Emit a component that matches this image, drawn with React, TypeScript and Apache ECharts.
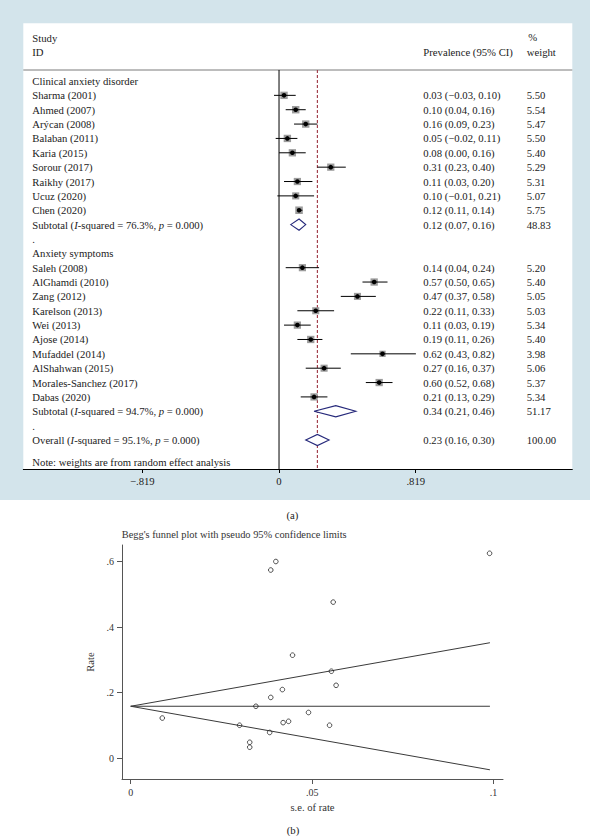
import React, { useEffect, useRef } from "react";
import * as echarts from "echarts";

// ---------- Forest plot data ----------
const subgroupNames = ["Clinical anxiety disorder", "Anxiety symptoms"];

const clinicalStudies = ["Sharma (2001)", "Ahmed (2007)", "Arýcan (2008)", "Balaban (2011)", "Karia (2015)", "Sorour (2017)", "Raikhy (2017)", "Ucuz (2020)", "Chen (2020)"];
const clinicalEst = [0.03, 0.10, 0.16, 0.05, 0.08, 0.31, 0.11, 0.10, 0.12];
const clinicalLow = [-0.03, 0.04, 0.09, -0.02, 0.00, 0.23, 0.03, -0.01, 0.11];
const clinicalHigh = [0.10, 0.16, 0.23, 0.11, 0.16, 0.40, 0.20, 0.21, 0.14];
const clinicalWeight = [5.50, 5.54, 5.47, 5.50, 5.40, 5.29, 5.31, 5.07, 5.75];

const symptomStudies = ["Saleh (2008)", "AlGhamdi (2010)", "Zang (2012)", "Karelson (2013)", "Wei (2013)", "Ajose (2014)", "Mufaddel (2014)", "AlShahwan (2015)", "Morales-Sanchez (2017)", "Dabas (2020)"];
const symptomEst = [0.14, 0.57, 0.47, 0.22, 0.11, 0.19, 0.62, 0.27, 0.60, 0.21];
const symptomLow = [0.04, 0.50, 0.37, 0.11, 0.03, 0.11, 0.43, 0.16, 0.52, 0.13];
const symptomHigh = [0.24, 0.65, 0.58, 0.33, 0.19, 0.26, 0.82, 0.37, 0.68, 0.29];
const symptomWeight = [5.20, 5.40, 5.05, 5.03, 5.34, 5.40, 3.98, 5.06, 5.37, 5.34];

const subtotalEst = [0.12, 0.34];
const subtotalLow = [0.07, 0.21];
const subtotalHigh = [0.16, 0.46];
const subtotalWeight = [48.83, 51.17];
const subtotalI2 = ["76.3", "94.7"];

const overallEst = 0.23;
const overallLow = 0.16;
const overallHigh = 0.30;
const overallWeight = 100.0;
const overallI2 = "95.1";

const forestTicks = [-0.819, 0, 0.819];
const noteText = "Note: weights are from random effect analysis";

// ---------- Funnel plot data ----------
const funnelSe = [0.040, 0.0386, 0.0446, 0.0418, 0.0386, 0.0345, 0.049, 0.0087, 0.0989, 0.0558, 0.0553, 0.0566, 0.030, 0.042, 0.0435, 0.0548, 0.0383, 0.0328, 0.0328];
const funnelRate = [0.600, 0.574, 0.314, 0.209, 0.185, 0.158, 0.139, 0.122, 0.625, 0.476, 0.265, 0.222, 0.100, 0.108, 0.112, 0.100, 0.078, 0.048, 0.033];
const limitSe = [0, 0.099];
const pooledLine = [0.158, 0.158];
const upperLimit = [0.158, 0.352];
const lowerLimit = [0.158, -0.036];
const funnelXTicks = [0, 0.05, 0.1];
const funnelYTicks = [0, 0.2, 0.4, 0.6];

// ---------- layout constants ----------
const SERIF = "'Liberation Serif', 'Times New Roman', serif";
const TXT = "#222";
const FS = 10.7;
const ROW_MIN = -4.018;
const ROW_MAX = 27.02;
const HEADER_ROW = -0.766;
const NOTE_ROW = 26.51;
const COL_LABEL = -1.478;
const COL_CI = 0.8646;
const COL_WEIGHT = 1.484;

const fmt = (v: number) => (v < 0 ? "\u2212" : "") + Math.abs(v).toFixed(2);
const ciText = (e: number, l: number, h: number) => `${fmt(e)} (${fmt(l)}, ${fmt(h)})`;
const hetText = (lead: string, i2: string) => `{n|${lead} (}{i|I}{n|-squared = ${i2}%, }{i|p}{n| = 0.000)}`;

type TextItem = { x: number; y: number; text: string; rich?: boolean };
type Mark = { y: number; est: number; low: number; high: number; weight: number };

function buildForest() {
  const texts: TextItem[] = [];
  const studies: Mark[] = [];
  const diamonds: Mark[] = [];
  const groups = [
    { names: clinicalStudies, est: clinicalEst, low: clinicalLow, high: clinicalHigh, w: clinicalWeight },
    { names: symptomStudies, est: symptomEst, low: symptomLow, high: symptomHigh, w: symptomWeight },
  ];
  let row = 0;
  groups.forEach((g, gi) => {
    texts.push({ x: COL_LABEL, y: row, text: subgroupNames[gi] });
    row += 1;
    g.names.forEach((name, i) => {
      texts.push({ x: COL_LABEL, y: row, text: name });
      texts.push({ x: COL_CI, y: row, text: ciText(g.est[i], g.low[i], g.high[i]) });
      texts.push({ x: COL_WEIGHT, y: row, text: g.w[i].toFixed(2) });
      studies.push({ y: row, est: g.est[i], low: g.low[i], high: g.high[i], weight: g.w[i] });
      row += 1;
    });
    texts.push({ x: COL_LABEL, y: row, text: hetText("Subtotal", subtotalI2[gi]), rich: true });
    texts.push({ x: COL_CI, y: row, text: ciText(subtotalEst[gi], subtotalLow[gi], subtotalHigh[gi]) });
    texts.push({ x: COL_WEIGHT, y: row, text: subtotalWeight[gi].toFixed(2) });
    diamonds.push({ y: row, est: subtotalEst[gi], low: subtotalLow[gi], high: subtotalHigh[gi], weight: subtotalWeight[gi] });
    row += 1;
    texts.push({ x: COL_LABEL, y: row, text: "." });
    row += 1;
  });
  texts.push({ x: COL_LABEL, y: row, text: hetText("Overall", overallI2), rich: true });
  texts.push({ x: COL_CI, y: row, text: ciText(overallEst, overallLow, overallHigh) });
  texts.push({ x: COL_WEIGHT, y: row, text: overallWeight.toFixed(2) });
  diamonds.push({ y: row, est: overallEst, low: overallLow, high: overallHigh, weight: overallWeight });
  texts.push({ x: COL_LABEL, y: NOTE_ROW, text: noteText });
  return { texts, studies, diamonds };
}

const tickFmtForest = (v: number) => (v === 0 ? "0" : (v < 0 ? "\u2212" : "") + Math.abs(v).toFixed(3).replace(/^0/, ""));
const tickFmtFunnel = (v: number) => (v === 0 ? "0" : String(v).replace(/^0/, ""));

export default function App() {
  const ref = useRef<HTMLDivElement>(null);

  useEffect(() => {
    if (!ref.current) return;
    const chart = echarts.init(ref.current, undefined, { renderer: "svg" });
    const { texts, studies, diamonds } = buildForest();

    const richStyle = {
      n: { fontFamily: SERIF, fontSize: FS, fill: TXT, fontStyle: "normal" },
      i: { fontFamily: SERIF, fontSize: FS, fill: TXT, fontStyle: "italic" },
    };

    const option: any = {
      animation: false,
      backgroundColor: "#ffffff",
      title: {
        text: "Begg's funnel plot with pseudo 95% confidence limits",
        left: 121.7,
        top: 529,
        padding: 0,
        textStyle: { fontFamily: SERIF, fontSize: 10.4, fontWeight: "normal", color: "#333" },
      },
      graphic: [
        { type: "rect", z: -20, silent: true, shape: { x: 0, y: 0, width: 590, height: 500 }, style: { fill: "#d3e4eb" } },
        { type: "rect", z: -19, silent: true, shape: { x: 23.3, y: 23.3, width: 549, height: 445.7 }, style: { fill: "#ffffff" } },
        { type: "line", z: -18, silent: true, shape: { x1: 23.3, y1: 70, x2: 572.3, y2: 70 }, style: { stroke: "#7a7a7a", lineWidth: 1 } },
        { type: "text", x: 32.3, y: 38.3, style: { text: "Study", fontFamily: SERIF, fontSize: FS, fill: TXT, verticalAlign: "middle" } },
        { type: "text", x: 32.3, y: 52.3, style: { text: "ID", fontFamily: SERIF, fontSize: FS, fill: TXT, verticalAlign: "middle" } },
        { type: "text", x: 423.3, y: 52.3, style: { text: "Prevalence (95% CI)", fontFamily: SERIF, fontSize: FS, fill: TXT, verticalAlign: "middle" } },
        { type: "text", x: 528.3, y: 36.7, style: { text: "%", fontFamily: SERIF, fontSize: FS, fill: TXT, verticalAlign: "middle" } },
        { type: "text", x: 526.7, y: 52.3, style: { text: "weight", fontFamily: SERIF, fontSize: FS, fill: TXT, verticalAlign: "middle" } },
        { type: "text", x: 292.5, y: 515, style: { text: "(a)", fontFamily: SERIF, fontSize: FS, fill: TXT, align: "center", verticalAlign: "middle" } },
        { type: "text", x: 293, y: 830, style: { text: "(b)", fontFamily: SERIF, fontSize: FS, fill: TXT, align: "center", verticalAlign: "middle" } },
      ],
      grid: [
        { left: 23.3, top: 23.3, width: 549, height: 445.7, containLabel: false, outerBoundsMode: "none" },
        { left: 122, top: 545, width: 381, height: 234, containLabel: false, outerBoundsMode: "none" },
      ],
      xAxis: [
        {
          type: "value",
          gridIndex: 0,
          position: "bottom",
          min: -1.532,
          max: 1.757,
          axisLine: { show: true, onZero: false, lineStyle: { color: "#000", width: 1 } },
          axisTick: { show: true, customValues: forestTicks, length: 4, lineStyle: { color: "#000", width: 1 } },
          axisLabel: { customValues: forestTicks, formatter: tickFmtForest, fontFamily: SERIF, fontSize: FS, color: TXT, margin: 6 },
          splitLine: { show: false },
        },
        {
          type: "value",
          gridIndex: 1,
          position: "bottom",
          min: -0.0024,
          max: 0.1026,
          name: "s.e. of rate",
          nameLocation: "middle",
          nameGap: 23,
          nameTextStyle: { fontFamily: SERIF, fontSize: 10.6, color: "#333" },
          axisLine: { show: true, onZero: false, lineStyle: { color: "#555", width: 1 } },
          axisTick: { show: true, customValues: funnelXTicks, length: 5, lineStyle: { color: "#555", width: 1 } },
          axisLabel: { customValues: funnelXTicks, formatter: tickFmtFunnel, fontFamily: SERIF, fontSize: 10, color: "#333", margin: 8 },
          splitLine: { show: false },
        },
      ],
      yAxis: [
        { type: "value", gridIndex: 0, min: ROW_MIN, max: ROW_MAX, inverse: true, show: false, axisLine: { onZero: false }, splitLine: { show: false } },
        {
          type: "value",
          gridIndex: 1,
          position: "left",
          min: -0.0641,
          max: 0.6504,
          name: "Rate",
          nameLocation: "middle",
          nameGap: 24,
          nameRotate: 90,
          nameTextStyle: { fontFamily: SERIF, fontSize: 10.6, color: "#333" },
          axisLine: { show: true, onZero: false, lineStyle: { color: "#555", width: 1 } },
          axisTick: { show: true, customValues: funnelYTicks, length: 5, lineStyle: { color: "#555", width: 1 } },
          axisLabel: { customValues: funnelYTicks, formatter: tickFmtFunnel, fontFamily: SERIF, fontSize: 10, color: "#333", margin: 8 },
          splitLine: { show: false },
        },
      ],
      series: [
        {
          type: "line",
          xAxisIndex: 0,
          yAxisIndex: 0,
          silent: true,
          symbol: "none",
          data: [[0, HEADER_ROW], [0, ROW_MAX]],
          lineStyle: { color: "#000", width: 1 },
          z: 1,
        },
        {
          type: "line",
          xAxisIndex: 0,
          yAxisIndex: 0,
          silent: true,
          symbol: "none",
          data: [[overallEst, HEADER_ROW], [overallEst, ROW_MAX]],
          lineStyle: { color: "#a3414d", width: 1.2, type: [3, 2] },
          z: 1,
        },
        {
          type: "custom",
          xAxisIndex: 0,
          yAxisIndex: 0,
          clip: false,
          silent: true,
          data: studies.map((s) => [s.est, s.y, s.low, s.high, s.weight]),
          renderItem: (_p: any, api: any) => {
            const y = api.value(1);
            const c = api.coord([api.value(0), y]);
            const l = api.coord([api.value(2), y]);
            const h = api.coord([api.value(3), y]);
            const s = 3.15 * Math.sqrt(api.value(4));
            return {
              type: "group",
              children: [
                { type: "rect", shape: { x: c[0] - s / 2, y: c[1] - s / 2, width: s, height: s }, style: { fill: "#9c9c9c" } },
                { type: "line", shape: { x1: l[0], y1: l[1], x2: h[0], y2: h[1] }, style: { stroke: "#000", lineWidth: 1 } },
                { type: "circle", shape: { cx: c[0], cy: c[1], r: 2.3 }, style: { fill: "#000" } },
              ],
            };
          },
          z: 3,
        },
        {
          type: "custom",
          xAxisIndex: 0,
          yAxisIndex: 0,
          clip: false,
          silent: true,
          data: diamonds.map((d) => [d.est, d.y, d.low, d.high]),
          renderItem: (_p: any, api: any) => {
            const y = api.value(1);
            const c = api.coord([api.value(0), y]);
            const l = api.coord([api.value(2), y]);
            const h = api.coord([api.value(3), y]);
            const hh = 5.6;
            return {
              type: "polygon",
              shape: { points: [[l[0], c[1]], [c[0], c[1] - hh], [h[0], c[1]], [c[0], c[1] + hh]] },
              style: { fill: "#ffffff", stroke: "#25287a", lineWidth: 1.1 },
            };
          },
          z: 3,
        },
        {
          type: "custom",
          xAxisIndex: 0,
          yAxisIndex: 0,
          clip: false,
          silent: true,
          data: texts.map((t) => [t.x, t.y]),
          renderItem: (p: any, api: any) => {
            const t = texts[p.dataIndex];
            const c = api.coord([api.value(0), api.value(1)]);
            const style: any = {
              text: t.text,
              fontFamily: SERIF,
              fontSize: FS,
              fill: TXT,
              align: "left",
              verticalAlign: "middle",
            };
            if (t.rich) style.rich = richStyle;
            return { type: "text", x: c[0], y: c[1], style };
          },
          z: 4,
        },
        {
          type: "line",
          xAxisIndex: 1,
          yAxisIndex: 1,
          silent: true,
          symbol: "none",
          data: limitSe.map((s, i) => [s, pooledLine[i]]),
          lineStyle: { color: "#3a3a3a", width: 1 },
        },
        {
          type: "line",
          xAxisIndex: 1,
          yAxisIndex: 1,
          silent: true,
          symbol: "none",
          data: limitSe.map((s, i) => [s, upperLimit[i]]),
          lineStyle: { color: "#3a3a3a", width: 1 },
        },
        {
          type: "line",
          xAxisIndex: 1,
          yAxisIndex: 1,
          silent: true,
          symbol: "none",
          data: limitSe.map((s, i) => [s, lowerLimit[i]]),
          lineStyle: { color: "#3a3a3a", width: 1 },
        },
        {
          type: "scatter",
          xAxisIndex: 1,
          yAxisIndex: 1,
          silent: true,
          symbol: "circle",
          symbolSize: 4.6,
          data: funnelSe.map((s, i) => [s, funnelRate[i]]),
          itemStyle: { color: "transparent", borderColor: "#222", borderWidth: 1 },
          z: 5,
        },
      ],
    };

    chart.setOption(option);
    return () => chart.dispose();
  }, []);

  return (
    <div
      ref={ref}
      style={{ position: "absolute", left: 0, top: 0, width: 590, height: 836 }}
    />
  );
}
